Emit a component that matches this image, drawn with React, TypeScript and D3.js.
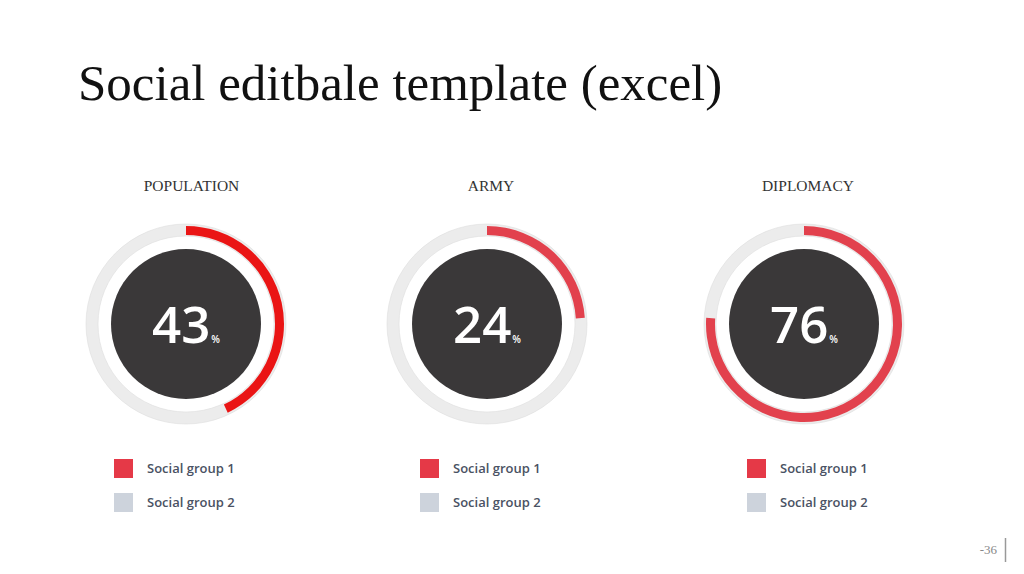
import React from "react";
import * as d3 from "d3";

const categories = ["POPULATION", "ARMY", "DIPLOMACY"];
const values = [43, 24, 76];
const legendLabels = ["Social group 1", "Social group 2"];
const arcColors = ["#ea1515", "#e2414d", "#e2414d"];
const legendColors = ["#e53947", "#cdd3dc"];

const W = 1024;
const H = 574;
const centers = [186, 487, 804];
const legendX = [114, 420, 747];
const titleX = [191.5, 491, 808];

export default function App() {
  const cy = 324;
  const angle = d3.scaleLinear().domain([0, 100]).range([0, 2 * Math.PI]);
  const ringArc = d3.arc().innerRadius(88).outerRadius(100).startAngle(0).endAngle(2 * Math.PI);
  const valArc = (v: number) =>
    d3.arc()({ innerRadius: 89, outerRadius: 98, startAngle: 0, endAngle: angle(v) } as any) as string;

  return (
    <svg width={W} height={H} style={{ position: "absolute", left: 0, top: 0, background: "#fff" }}>
      <text x={78} y={100} fontFamily="Liberation Serif, serif" fontSize={51} fill="#111">
        Social editbale template (excel)
      </text>
      {categories.map((c, i) => {
        const cx = centers[i];
        return (
          <g key={c}>
            <text x={titleX[i]} y={191} textAnchor="middle" fontFamily="Liberation Serif, serif" fontSize={15.5} fill="#333">
              {c}
            </text>
            <g transform={`translate(${cx},${cy})`}>
              <path d={ringArc({} as any) as string} fill="#ececec" stroke="#dedede" strokeWidth={0.6} />
              <path d={valArc(values[i])} fill={arcColors[i]} />
              <circle r={75} fill="#3a3839" />
              <text textAnchor="middle" y={19} fontFamily="Open Sans, sans-serif" fontWeight={600} fontSize={51} fill="#fff">
                <tspan>{values[i]}</tspan>
                <tspan fontSize={10} dx={1}>%</tspan>
              </text>
            </g>
            {legendLabels.map((l, j) => (
              <g key={l} transform={`translate(${legendX[i]},${459 + j * 34})`}>
                <rect width={19} height={19} fill={legendColors[j]} />
                <text x={33} y={14} fontFamily="Open Sans, sans-serif" fontWeight={600} fontSize={13} fill="#4a5263">
                  {l}
                </text>
              </g>
            ))}
          </g>
        );
      })}
      <text x={997} y={554} textAnchor="end" fontFamily="Liberation Serif, serif" fontSize={13} fill="#888">
        -36
      </text>
      <line x1={1005.5} x2={1005.5} y1={538} y2={562} stroke="#999" strokeWidth={1.5} />
    </svg>
  );
}
